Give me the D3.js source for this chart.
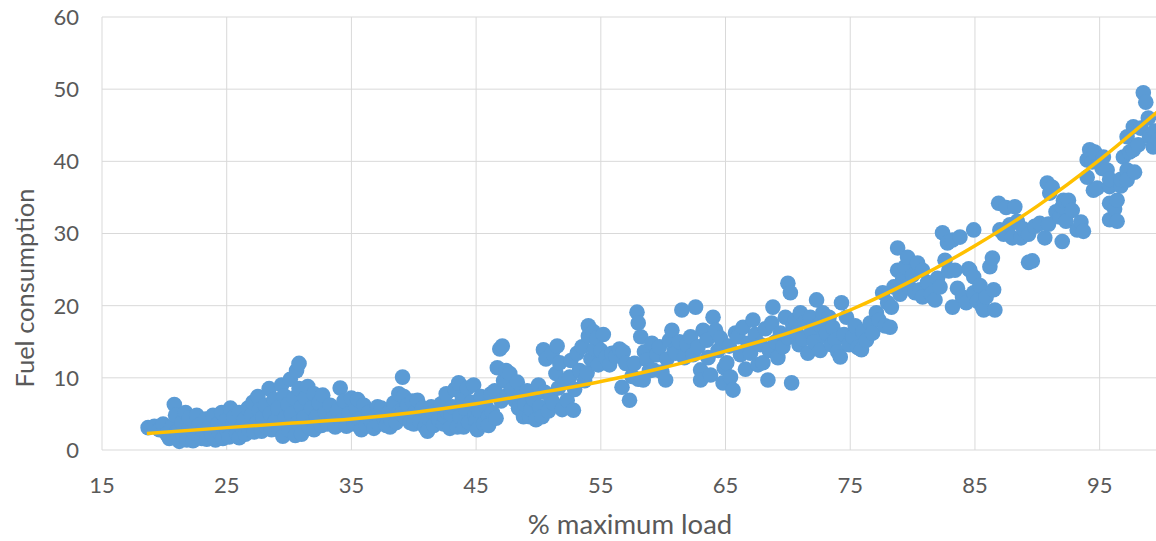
<!DOCTYPE html>
<html lang="en">

<head>
    <meta charset="UTF-8">
    <title>Fuel consumption vs % maximum load</title>
    <script src="https://d3js.org/d3.v7.min.js"></script>
    <style>
        body {
            margin: 0;
            background: #fff;
            font-family: Lato, "Open Sans", sans-serif;
        }

        .grid line {
            stroke: #d9d9d9;
            stroke-width: 1px;
        }

        .tick-label {
            font-size: 22px;
            fill: #595959;
        }

        .axis-title {
            fill: #595959;
        }
    </style>
</head>

<body>
    <div id="chart"></div>

    <script>
        // axis ticks
        const xTicks = [15, 25, 35, 45, 55, 65, 75, 85, 95];
        const yTicks = [0, 10, 20, 30, 40, 50, 60];

        // measured points: [% maximum load, fuel consumption]
        const points = [
            [18.7, 3.1], [19.2, 3.3], [19.6, 2.8], [19.9, 3.6], [20.2, 2.2],
            [20.4, 1.6], [20.6, 3.2], [20.8, 6.3], [20.9, 4.8], [21.0, 2.6],
            [21.2, 1.2], [21.4, 3.8], [21.5, 2.0], [21.7, 5.2], [21.8, 1.4], [22.0, 3.0], [22.0, 4.4],
            [22.3, 1.3], [22.4, 2.4], [22.6, 4.8], [22.8, 3.5], [23.0, 1.6], [23.1, 2.7],
            [23.3, 4.3], [23.4, 1.5], [23.6, 3.2], [23.8, 2.2], [23.9, 4.8], [24.1, 1.4],
            [24.3, 3.6], [24.4, 2.5], [24.6, 5.2], [24.7, 1.6], [24.9, 4.0], [25.0, 2.8],
            [25.2, 1.8], [25.3, 5.8], [25.5, 3.5], [25.6, 4.6], [25.8, 2.3], [26.0, 5.2], [26.0, 1.7],
            [26.2, 3.2], [26.4, 4.2], [26.5, 2.2], [26.7, 5.8], [26.8, 2.8], [27.0, 4.9],
            [27.1, 6.6], [27.2, 2.5], [27.4, 3.8], [27.5, 7.4], [27.6, 5.5], [27.8, 2.6], [27.9, 4.5],
            [28.1, 6.2], [28.2, 3.2], [28.4, 8.5], [28.5, 5.0], [28.6, 2.8], [28.8, 7.0], [28.9, 4.0],
            [29.1, 5.8], [29.2, 3.0], [29.4, 9.0], [29.5, 1.9], [29.6, 7.5], [29.7, 4.5], [29.9, 6.3], [30.0, 2.8],
            [30.1, 9.8], [30.2, 5.0], [30.4, 7.2], [30.5, 2.0], [30.6, 11.0], [30.7, 3.8], [30.8, 12.0],
            [30.8, 8.5], [31.0, 6.0], [31.0, 2.2],
            [31.2, 4.5], [31.3, 7.2], [31.5, 8.8], [31.6, 3.2], [31.8, 5.8], [32.0, 7.8], [32.0, 2.8],
            [32.2, 4.6], [32.4, 6.5], [32.6, 3.4], [32.7, 7.6], [32.9, 5.2],
            [33.1, 3.6], [33.3, 6.2], [33.5, 4.4], [33.7, 3.2], [33.9, 5.4],
            [34.1, 8.6], [34.2, 4.0], [34.4, 6.8], [34.6, 3.3], [34.8, 5.0], [35.0, 7.2],
            [35.2, 3.6], [35.4, 5.8], [35.5, 7.0], [35.6, 4.3], [35.8, 2.8], [36.0, 6.2],
            [36.2, 3.4], [36.3, 4.6], [36.4, 5.2], [36.6, 4.0], [36.8, 3.0], [37.0, 4.8], [37.1, 6.0],
            [37.2, 3.6], [37.4, 5.8], [37.6, 4.4], [37.8, 3.4], [38.0, 5.2], [38.1, 3.2],
            [38.2, 4.2], [38.4, 6.5], [38.6, 3.8], [38.8, 7.8], [38.9, 5.4], [39.0, 5.0],
            [39.1, 10.1], [39.2, 7.4], [39.3, 4.6], [39.5, 6.2], [39.7, 3.8], [39.9, 6.8], [40.0, 3.6],
            [40.1, 5.2], [40.3, 6.9], [40.5, 4.0], [40.7, 5.8], [40.9, 3.2],
            [41.1, 2.6], [41.2, 4.4], [41.4, 6.0], [41.5, 5.2], [41.6, 3.4], [41.8, 5.0], [42.0, 4.2],
            [42.2, 6.4], [42.4, 3.6], [42.5, 4.6], [42.6, 7.8], [42.7, 5.2], [42.9, 3.0],
            [43.0, 5.0], [43.1, 6.0], [43.3, 8.4], [43.5, 3.2], [43.6, 9.3], [43.7, 4.6], [43.9, 7.0],
            [44.0, 3.2], [44.1, 5.8], [44.3, 8.6], [44.4, 3.8], [44.6, 6.6], [44.8, 9.0], [44.9, 4.8],
            [45.0, 4.0], [45.1, 2.8], [45.2, 5.5], [45.4, 7.4], [45.6, 3.6], [45.8, 6.0],
            [46.0, 4.6], [46.0, 3.4], [46.2, 7.8], [46.3, 5.2], [46.5, 8.2], [46.6, 4.4], [46.7, 11.4], [46.9, 14.0], [47.0, 6.8],
            [47.1, 14.4], [47.2, 9.6], [47.4, 11.0], [47.5, 7.6], [47.7, 10.6], [47.9, 8.4],
            [48.1, 6.9], [48.3, 9.4], [48.4, 5.8], [48.6, 7.8], [48.8, 4.6], [48.9, 6.4],
            [49.1, 8.2], [49.3, 4.6], [49.4, 5.6], [49.6, 7.0], [49.8, 4.2], [50.0, 9.0],
            [50.1, 6.0], [50.3, 4.6], [50.4, 13.9], [50.5, 8.0], [50.6, 12.6], [50.8, 5.4], [51.0, 7.2],
            [51.1, 13.4], [51.2, 6.5], [51.4, 10.6], [51.5, 14.4], [51.6, 8.6], [51.7, 12.1], [51.9, 5.6],
            [52.1, 9.4], [52.3, 6.9], [52.5, 10.1], [52.6, 12.4], [52.8, 5.5], [52.9, 8.4],
            [53.1, 13.4], [53.3, 11.0], [53.5, 14.3], [53.7, 9.6], [53.9, 10.7], [54.0, 17.2], [54.0, 15.8],
            [54.2, 12.6], [54.4, 16.4], [54.5, 14.0], [54.7, 15.5], [54.8, 11.8], [55.0, 13.8],
            [55.2, 16.0], [55.4, 12.8], [55.7, 11.8], [55.9, 13.4],
            [56.2, 13.0], [56.5, 14.0], [56.7, 8.7], [56.8, 13.6], [57.0, 12.0],
            [57.3, 6.9], [57.5, 10.2], [57.7, 12.0], [57.9, 19.1], [58.0, 17.6], [58.0, 9.8],
            [58.2, 15.7], [58.4, 9.7], [58.5, 13.6], [58.7, 12.5], [58.9, 11.0],
            [59.1, 14.8], [59.2, 11.1], [59.5, 13.2], [59.7, 14.3], [59.9, 10.8],
            [60.2, 9.7], [60.3, 12.6], [60.5, 15.2], [60.7, 16.6], [60.9, 13.8],
            [61.0, 13.4], [61.3, 15.0], [61.5, 19.4], [61.7, 12.8], [61.9, 14.6],
            [62.2, 15.7], [62.4, 13.2], [62.6, 19.8], [62.8, 14.3], [63.0, 11.1], [63.0, 9.7],
            [63.2, 16.6], [63.5, 15.2], [63.6, 12.8], [63.8, 10.4], [64.0, 18.4],
            [64.2, 16.6], [64.4, 13.8], [64.6, 15.5], [64.8, 9.3], [64.9, 11.4],
            [65.1, 12.1], [65.3, 14.4], [65.4, 10.1], [65.6, 8.3], [65.8, 16.2], [66.0, 15.7],
            [66.2, 13.2], [66.4, 17.0], [66.6, 11.2], [66.8, 14.8], [67.0, 13.4],
            [67.2, 18.0], [67.4, 16.0], [67.6, 11.8], [67.8, 14.6], [68.0, 12.1],
            [68.2, 16.8], [68.4, 9.7], [68.5, 13.8], [68.7, 17.6], [68.8, 19.8], [69.0, 15.0],
            [69.2, 12.8], [69.4, 16.2], [69.6, 14.3], [69.8, 18.4], [70.0, 23.1], [70.0, 15.6],
            [70.2, 21.8], [70.3, 9.3], [70.4, 17.2], [70.6, 18.0], [70.7, 16.2], [70.9, 14.6], [71.0, 19.0],
            [71.2, 15.4], [71.4, 17.8], [71.6, 13.4], [71.8, 18.4], [71.9, 16.4],
            [72.1, 15.0], [72.3, 20.8], [72.5, 17.4], [72.6, 13.8], [72.8, 19.0], [72.9, 15.8],
            [73.1, 16.2], [73.3, 18.4], [73.5, 14.6], [73.6, 17.0], [73.8, 15.2], [74.0, 13.6],
            [74.2, 12.9], [74.3, 20.4], [74.5, 16.0], [74.7, 18.4], [74.9, 14.6],
            [75.2, 15.7], [75.4, 17.2], [75.6, 14.2], [75.9, 13.9], [76.0, 16.4],
            [76.3, 15.2], [76.6, 17.6], [76.8, 16.2], [77.1, 19.0],
            [77.3, 18.0], [77.6, 21.8], [77.8, 17.2], [78.0, 20.4],
            [78.2, 17.0], [78.3, 19.8], [78.5, 22.6], [78.8, 28.0], [78.8, 24.9], [79.0, 21.6],
            [79.2, 23.6], [79.4, 25.4], [79.6, 26.7], [79.8, 22.4], [80.0, 24.2],
            [80.2, 21.8], [80.4, 25.9], [80.6, 22.2], [80.8, 24.9], [80.8, 21.2],
            [81.2, 23.2], [81.5, 21.6], [81.8, 20.8], [82.0, 23.8],
            [82.2, 22.6], [82.4, 30.1], [82.6, 26.3], [82.8, 28.7], [82.9, 24.8],
            [83.2, 29.1], [83.2, 19.8], [83.4, 24.9], [83.6, 22.4], [83.8, 29.5], [84.0, 21.2],
            [84.3, 20.4], [84.5, 25.1], [84.6, 24.9], [84.9, 30.5], [84.9, 21.8], [84.9, 24.0],
            [85.2, 20.6], [85.4, 22.8], [85.6, 19.8], [85.7, 19.4], [85.9, 21.2],
            [86.2, 25.4], [86.4, 26.6], [86.5, 22.2], [86.6, 19.4], [86.9, 34.2], [87.0, 30.5],
            [87.3, 29.9], [87.5, 33.6], [87.8, 31.2], [88.0, 29.4],
            [88.2, 33.7], [88.4, 31.7], [88.7, 29.4], [88.9, 30.6],
            [89.3, 26.0], [89.3, 29.9], [89.6, 26.2], [89.8, 31.0],
            [90.2, 31.4], [90.6, 29.4], [90.9, 31.3], [90.8, 37.0], [91.0, 35.6],
            [91.2, 36.4], [91.5, 33.0], [91.8, 32.3], [92.0, 28.9], [92.0, 33.7],
            [92.1, 34.6], [92.3, 31.7], [92.5, 34.6], [92.8, 33.2],
            [93.2, 30.5], [93.5, 31.6], [93.7, 30.3],
            [94.0, 40.2], [94.0, 37.8], [94.2, 41.6], [94.4, 39.9], [94.5, 36.0], [94.8, 36.3], [94.6, 41.3],
            [95.2, 39.0], [95.3, 40.6], [95.6, 38.8], [95.8, 36.5], [95.8, 34.2], [95.8, 31.9], [95.8, 37.5],
            [96.2, 33.4], [96.4, 34.6], [96.4, 31.7], [96.7, 36.6], [96.7, 37.5], [96.9, 40.6],
            [97.2, 43.4], [97.2, 38.8], [97.2, 37.4], [97.4, 41.3], [97.7, 44.8], [97.7, 41.6], [97.8, 38.5],
            [98.1, 42.3], [98.3, 44.6], [98.5, 49.5], [98.7, 48.2], [98.9, 46.0],
            [99.0, 43.4], [99.3, 42.0], [99.4, 44.2], [99.7, 43.0], [99.9, 42.4]
        ];

        // trendline
        const trendLoad = [18.6, 25, 30, 35, 40, 45, 50, 55, 60, 65, 70, 75, 80, 85, 90, 95, 100];
        const trendFuel = [2.3, 3.1, 3.7, 4.3, 5.2, 6.4, 7.9, 9.5, 11.4, 13.7, 16.2, 19.4, 23.5, 28.3, 33.8, 40.2, 47.4];

        const W = 1156, H = 541;
        const margin = { top: 17, left: 102 };
        const plotW = 1060, plotH = 433;

        const svg = d3.select("#chart").append("svg")
            .attr("width", W)
            .attr("height", H);

        const x = d3.scaleLinear().domain([15, 100]).range([margin.left, margin.left + plotW]);
        const y = d3.scaleLinear().domain([0, 60]).range([margin.top + plotH, margin.top]);

        // grid
        const grid = svg.append("g").attr("class", "grid");
        grid.selectAll(".gx").data(xTicks).enter().append("line")
            .attr("x1", d => x(d)).attr("x2", d => x(d))
            .attr("y1", y(0)).attr("y2", y(60));
        grid.selectAll(".gy").data(yTicks).enter().append("line")
            .attr("x1", x(15)).attr("x2", x(100))
            .attr("y1", d => y(d)).attr("y2", d => y(d));

        // tick labels
        svg.selectAll(".xl").data(xTicks).enter().append("text")
            .attr("class", "tick-label")
            .attr("x", d => x(d))
            .attr("y", y(0) + 43)
            .attr("text-anchor", "middle")
            .text(d => d);

        svg.selectAll(".yl").data(yTicks).enter().append("text")
            .attr("class", "tick-label")
            .attr("x", x(15) - 23)
            .attr("y", d => y(d))
            .attr("dy", "0.36em")
            .attr("text-anchor", "end")
            .text(d => d);

        // scatter
        svg.append("g").selectAll("circle")
            .data(points)
            .enter().append("circle")
            .attr("cx", d => x(d[0]))
            .attr("cy", d => y(d[1]))
            .attr("r", 7.8)
            .attr("fill", "#5b9bd5");

        // trendline
        const line = d3.line()
            .x(d => x(d[0]))
            .y(d => y(d[1]))
            .curve(d3.curveMonotoneX);

        svg.append("path")
            .datum(trendLoad.map((v, i) => [v, trendFuel[i]]))
            .attr("d", line)
            .attr("fill", "none")
            .attr("stroke", "#ffc000")
            .attr("stroke-width", 3.5);

        // axis titles
        svg.append("text")
            .attr("class", "axis-title")
            .attr("x", 630)
            .attr("y", 534)
            .attr("text-anchor", "middle")
            .style("font-size", "27.5px")
            .text("% maximum load");

        svg.append("text")
            .attr("class", "axis-title")
            .attr("transform", "translate(34,288) rotate(-90)")
            .attr("text-anchor", "middle")
            .style("font-size", "25.5px")
            .text("Fuel consumption");
    </script>
</body>

</html>
